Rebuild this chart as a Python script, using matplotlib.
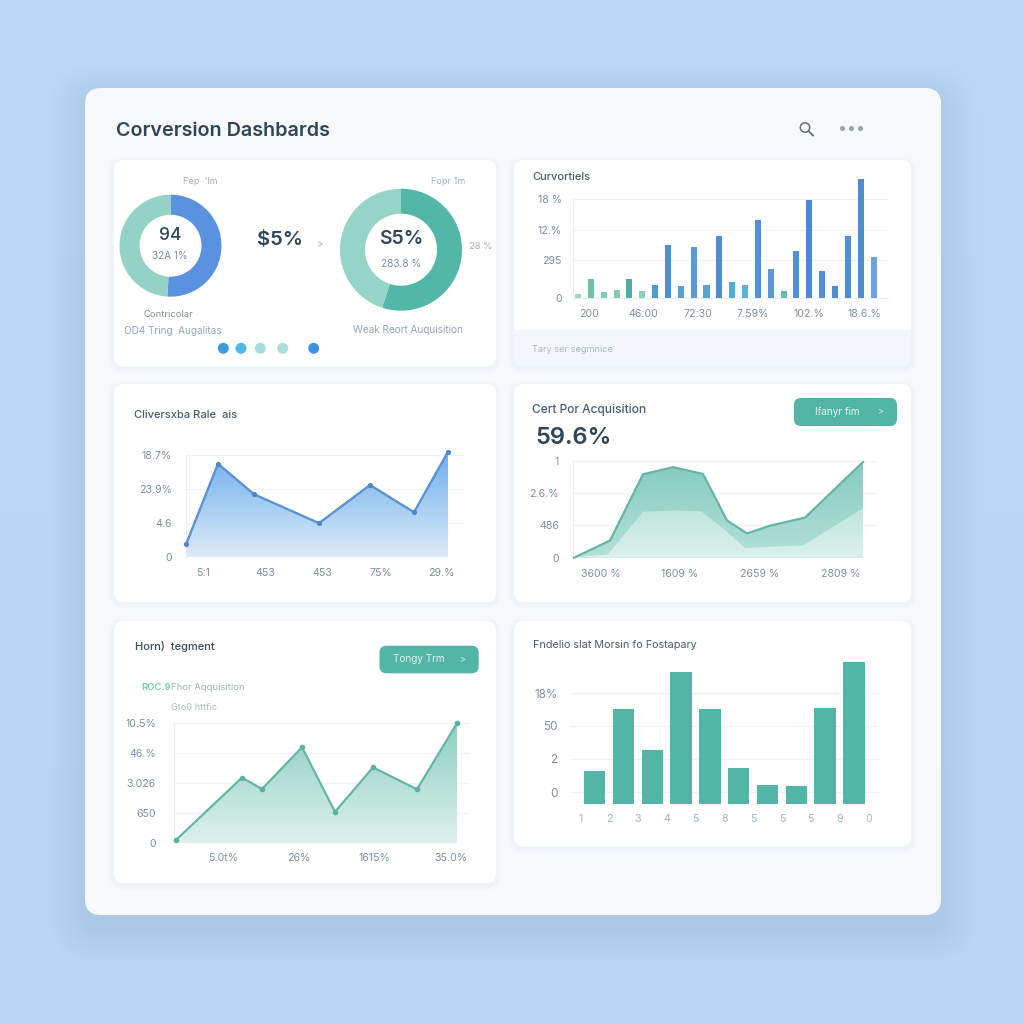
import numpy as np
import matplotlib
matplotlib.use("Agg")
import matplotlib.pyplot as plt
from matplotlib.colors import to_rgb
from matplotlib.patches import Circle, FancyBboxPatch, Rectangle

plt.rcParams['font.family'] = ['Inter', 'DejaVu Sans']

# donuts
donut_left = [51, 49]
donut_right = [55, 45]

# bars, top right
conv_values = [0.7, 3.4, 1.1, 1.4, 3.5, 1.3, 2.4, 9.6, 2.1, 9.2, 2.3, 11.3,
               2.9, 2.3, 14.1, 5.3, 1.2, 8.5, 17.9, 5.0, 2.2, 11.2, 21.7, 7.5]
conv_yticks = [0, 6.9, 12.4, 18]
conv_ylabels = ['0', '295', '12.%', '18 %']
conv_xticks = [0.86, 5.06, 9.3, 13.6, 18, 22.3]
conv_xlabels = ['200', '46:00', '72:30', '7.59%', '102.%', '18.6.%']

# blue area
rate_x = [0, 32, 68, 133, 184, 228, 262]
rate_y = [2.3, 17.1, 11.5, 6.2, 13.2, 8.2, 19.3]
rate_yticks = [0, 6.2, 12.5, 18.7]
rate_ylabels = ['0', '4.6', '23.9%', '18.7%']
rate_xticks = [17, 79, 136, 195, 255]
rate_xlabels = ['5:1', '453', '453', '75%', '29.%']

# double green area
cost_x = [0, 36, 69, 99, 129, 153, 173, 196, 231, 289]
cost_y = [0, 0.53, 2.58, 2.80, 2.59, 1.15, 0.75, 0.99, 1.24, 2.96]
cost_x2 = [0, 34, 69, 99, 127, 149, 171, 229, 289]
cost_y2 = [0, 0.11, 1.42, 1.46, 1.44, 0.91, 0.30, 0.38, 1.53]
cost_yticks = [0, 1, 2, 3]
cost_ylabels = ['0', '486', '2.6.%', '1']
cost_xticks = [27, 106, 186, 267]
cost_xlabels = ['3600 %', '1609 %', '2659 %', '2809 %']

# green line
seg_x = [2, 68, 88, 128, 161, 199, 243, 283]
seg_y = [0.1, 2.18, 1.8, 3.19, 1.04, 2.52, 1.79, 3.99]
seg_yticks = [0, 1, 2, 3, 4]
seg_ylabels = ['0', '650', '3.026', '46.%', '10.5%']
seg_xticks = [49, 125, 200, 277]
seg_xlabels = ['5.0t%', '26%', '1615%', '35.0%']

# green bars
fin_values = [1.01, 2.88, 1.62, 3.99, 2.86, 1.09, 0.57, 0.54, 2.90, 4.29]
fin_yticks = [0.36, 1.37, 2.36, 3.35]
fin_ylabels = ['0', '2', '50', '18%']
fin_xlabels = ['1', '2', '3', '4', '5', '8', '5', '5', '5', '9', '0']

W, H = 1024, 1024
DARK = '#2F4558'
GREY = '#7F8FA0'
LIGHT = '#A3B1C0'
GREEN = '#52B5A5'
BLUE = '#5B92D8'
GRID = '#EFF3F8'


def px_axes(x0, y0, x1, y1):
    ax = fig.add_axes([x0 / W, 1 - y1 / H, (x1 - x0) / W, (y1 - y0) / H])
    ax.patch.set_alpha(0)
    return ax


def style_chart(ax, yticks, ylabels, xticks, xlabels, xpad, ypad):
    for name in ['top', 'right', 'bottom']:
        ax.spines[name].set_visible(False)
    ax.spines['left'].set_color('#E8EEF4')
    ax.spines['left'].set_linewidth(0.8)
    ax.set_yticks(yticks, ylabels)
    ax.set_xticks(xticks, xlabels)
    ax.tick_params(axis='y', length=0, pad=ypad, labelsize=7.6, labelcolor=GREY)
    ax.tick_params(axis='x', length=0, pad=xpad, labelsize=7.6, labelcolor=GREY)
    ax.grid(axis='y', color=GRID, linewidth=0.9)
    ax.set_axisbelow(True)


def gradient_fill(ax, x, y, top, bottom, zorder=2):
    # vertical colour ramp clipped to the area under the line
    poly = ax.fill_between(x, y, 0, color='none')
    ramp = np.linspace(0, 1, 128)[:, None, None]
    img = (1 - ramp) * np.array(to_rgb(top)) + ramp * np.array(to_rgb(bottom))
    im = ax.imshow(img, extent=[min(x), max(x), 0, max(y)], origin='upper',
                   aspect='auto', zorder=zorder)
    im.set_clip_path(poly.get_paths()[0], transform=ax.transData)


def card(x0, y0, x1, y1, r=9, color='white', shadow=5):
    for i in range(shadow, 0, -1):
        bg.add_patch(FancyBboxPatch((x0 - i, y0 - i + 2), x1 - x0 + 2 * i, y1 - y0 + 2 * i,
                                    boxstyle=f'round,pad=0,rounding_size={r + i}',
                                    fc='#C8D8EA', ec='none', alpha=0.03))
    patch = FancyBboxPatch((x0, y0), x1 - x0, y1 - y0,
                           boxstyle=f'round,pad=0,rounding_size={r}',
                           fc=color, ec='none')
    bg.add_patch(patch)
    return patch


def label(x, y, s, size=7.6, color=GREY, ha='center', weight='normal'):
    bg.text(x, y, s, fontsize=size, color=color, ha=ha, va='center', fontweight=weight)


def button(x0, y0, x1, y1, s, sx, ax_):
    bg.add_patch(FancyBboxPatch((x0, y0), x1 - x0, y1 - y0,
                                boxstyle='round,pad=0,rounding_size=7',
                                fc=GREEN, ec='none'))
    label(sx, (y0 + y1) / 2, s, 7.2, '#E4F5F1')
    label(ax_, (y0 + y1) / 2, '>', 6.5, '#D4EFE9')


def donut(cx, cy, ro, ri, values, colors):
    ax = px_axes(cx - ro, cy - ro, cx + ro, cy + ro)
    ax.pie(values, colors=colors, startangle=90, counterclock=False, radius=1,
           wedgeprops={'width': 1 - ri / ro, 'linewidth': 0})
    ax.set_xlim(-1, 1)
    ax.set_ylim(-1, 1)


fig = plt.figure(figsize=(W / 100, H / 100), dpi=100)

# background layer in pixel coordinates
bg = fig.add_axes([0, 0, 1, 1])
bg.set_xlim(0, W)
bg.set_ylim(H, 0)
bg.axis('off')
ramp = np.linspace(0, 1, 64)[:, None, None]
bg.imshow((1 - ramp) * np.array(to_rgb('#BCD8F4')) + ramp * np.array(to_rgb('#B8D6F3')),
          extent=[0, W, H, 0], aspect='auto', zorder=0)
bg.set_xlim(0, W)
bg.set_ylim(H, 0)

# soft shadow under the panel
for i in range(36, 0, -3):
    bg.add_patch(FancyBboxPatch((85 - i, 88 - i + 12), 856 + 2 * i, 827 + 2 * i,
                                boxstyle=f'round,pad=0,rounding_size={16 + i}',
                                fc='#8FB2DC', ec='none', alpha=0.024))
card(85, 88, 941, 915, r=16, color='#F7F9FC', shadow=0)

label(116, 130.5, 'Corversion Dashbards', 14.2, DARK, 'left', 600)

# search icon and menu dots
bg.add_patch(Circle((805, 127.5), 4.7, fc='none', ec='#5F6F80', lw=1.1))
bg.plot([808.5, 813], [131, 135.5], color='#5F6F80', lw=1.3)
bg.scatter([842, 851, 860], [128, 128, 128], s=14, color='#98A6B6', lw=0)

card(114, 160, 496, 366)
card_b = card(514, 160, 911, 366)
strip = Rectangle((514, 330), 397, 36, fc='#F3F7FB', ec='none')
bg.add_patch(strip)
strip.set_clip_path(card_b)
card(114, 384, 496, 602)
card(514, 384, 911, 602)
card(114, 621, 496, 883)
card(514, 621, 911, 846)

# donut card
donut(170.5, 245.7, 51, 31, donut_left, ['#5B92E0', '#94D2C5'])
donut(401, 249.7, 61, 36, donut_right, ['#52B7A6', '#96D4C7'])
label(200, 182, 'Fep  \'lm', 6.6, LIGHT)
label(448, 182, 'Fopr 1m', 6.6, LIGHT)
label(170, 235, '94', 12.5, DARK, weight=500)
label(170, 256, '32A 1%', 7.2, GREY)
label(280, 240, '$5%', 14.5, DARK, weight=600)
label(320, 244, '>', 7, LIGHT)
label(401, 239, 'S5%', 14, DARK, weight=600)
label(401, 264, '283.8 %', 7.2, GREY)
label(481, 246.5, '28 %', 6.8, LIGHT)
label(168, 314.5, 'Contricolar', 6.8, GREY)
label(172.5, 330.5, 'OD4 Tring  Augalitas', 7.2, '#95A5B8')
label(408, 330, 'Weak Reort Auquisition', 7.2, '#95A5B8')
bg.scatter([223.3, 241, 260.3, 282.7, 313.7], [348.3] * 5, s=62, lw=0,
           color=['#3D9BDB', '#4FB8E3', '#A5DFDC', '#A9DED8', '#3F92E3'], zorder=3)

# bars, top right
label(532, 177, 'Curvortiels', 8, '#4A5D70', 'left', 500)
label(532, 349, 'Tary ser segmnice', 6.6, '#A9B6C6', 'left')
ax = px_axes(573, 199, 888, 298)
conv_colors = ['#9AD9CB', '#6CC4AE', '#7CCBB6', '#7FCDB3', '#4EAFA2', '#87D0C0',
               '#4F9DCB', '#4F8ED0', '#5AA0D2', '#5B9BD8', '#5BA5D6', '#4F8ED2',
               '#4EAFD0', '#5FB0DC', '#4F92D8', '#5C96D6', '#62BFB0', '#4F90D6',
               '#4A8BD2', '#5590D2', '#4D8FCF', '#4F8FD8', '#4F8DD2', '#6CA3DC']
ax.bar(np.arange(len(conv_values)), conv_values, width=0.47, color=conv_colors,
       clip_on=False, zorder=3)
ax.set_xlim(-5 / 12.85, 310 / 12.85)
ax.set_ylim(0, 18)
style_chart(ax, conv_yticks, conv_ylabels, conv_xticks, conv_xlabels, 8, 8)
ax.spines['bottom'].set_visible(True)
ax.spines['bottom'].set_color('#E8EEF4')

# blue area
label(134, 415, 'Cliversxba Rale  ais', 8, '#4A5D70', 'left', 500)
ax = px_axes(185.5, 455, 465, 557)
gradient_fill(ax, rate_x, rate_y, '#6DB0EE', '#DCEAF7')
ax.plot(rate_x, rate_y, color=BLUE, lw=1.7, zorder=3, clip_on=False)
ax.scatter(rate_x, rate_y, s=14, color='#4F86C8', lw=0, zorder=4, clip_on=False)
ax.set_xlim(-0.5, 279)
ax.set_ylim(0, 18.7)
style_chart(ax, rate_yticks, rate_ylabels, rate_xticks, rate_xlabels, 8, 10)

# double green area
label(532, 409.5, 'Cert Por Acquisition', 8.6, '#4A5D70', 'left', 500)
label(535, 437.5, '59.6%', 17, DARK, 'left', 600)
button(794, 398, 897, 426, 'Ifanyr fim', 837, 881)
ax = px_axes(573, 460.7, 877, 557.7)
gradient_fill(ax, cost_x, cost_y, '#86CCBE', '#B4E0D7', zorder=2)
gradient_fill(ax, cost_x2, cost_y2, '#BEE5DC', '#DCF1ED', zorder=3)
ax.plot(cost_x, cost_y, color='#66B5A6', lw=1.6, zorder=4, clip_on=False)
ax.set_xlim(-1, 303)
ax.set_ylim(0, 3)
style_chart(ax, cost_yticks, cost_ylabels, cost_xticks, cost_xlabels, 8, 10)

# green line
label(135, 646, 'Horn)  tegment', 8, '#3C4E60', 'left', 500)
button(379.5, 645.7, 478.7, 673.3, 'Tongy Trm', 419, 463)
label(141, 688, 'ROC.9', 6.8, '#6FCFA8', 'left', 600)
label(171, 688, 'Fhor Aqquisition', 6.8, '#A3B1C0', 'left')
label(171, 707, 'Gto0 httfic', 6.6, '#A9B6C6', 'left')
ax = px_axes(174, 723, 470, 843)
gradient_fill(ax, seg_x, seg_y, '#8CCFC0', '#DDF1ED')
ax.plot(seg_x, seg_y, color='#66B5A6', lw=1.6, zorder=3, clip_on=False)
ax.scatter(seg_x, seg_y, s=16, color='#5CB0A0', lw=0, zorder=4, clip_on=False)
ax.set_xlim(0, 296)
ax.set_ylim(0, 4)
style_chart(ax, seg_yticks, seg_ylabels, seg_xticks, seg_xlabels, 7, 13)

# green bars
label(533, 645, 'Fndelio slat Morsin fo Fostapary', 7.8, '#4A5D70', 'left')
ax = px_axes(570, 693, 879, 804)
ax.bar(np.arange(len(fin_values)), fin_values, width=0.745, color=GREEN, clip_on=False, zorder=3)
ax.set_xlim((570 - 594.7) / 28.8, (879 - 594.7) / 28.8)
ax.set_ylim(0, 3.35)
style_chart(ax, fin_yticks, fin_ylabels, np.arange(len(fin_xlabels)) - 0.5, fin_xlabels, 7, 9)
ax.tick_params(axis='x', labelcolor='#A3B1C0')
ax.tick_params(axis='y', labelsize=8.4)
ax.spines['left'].set_visible(False)

fig.savefig("out.png", dpi=100)
